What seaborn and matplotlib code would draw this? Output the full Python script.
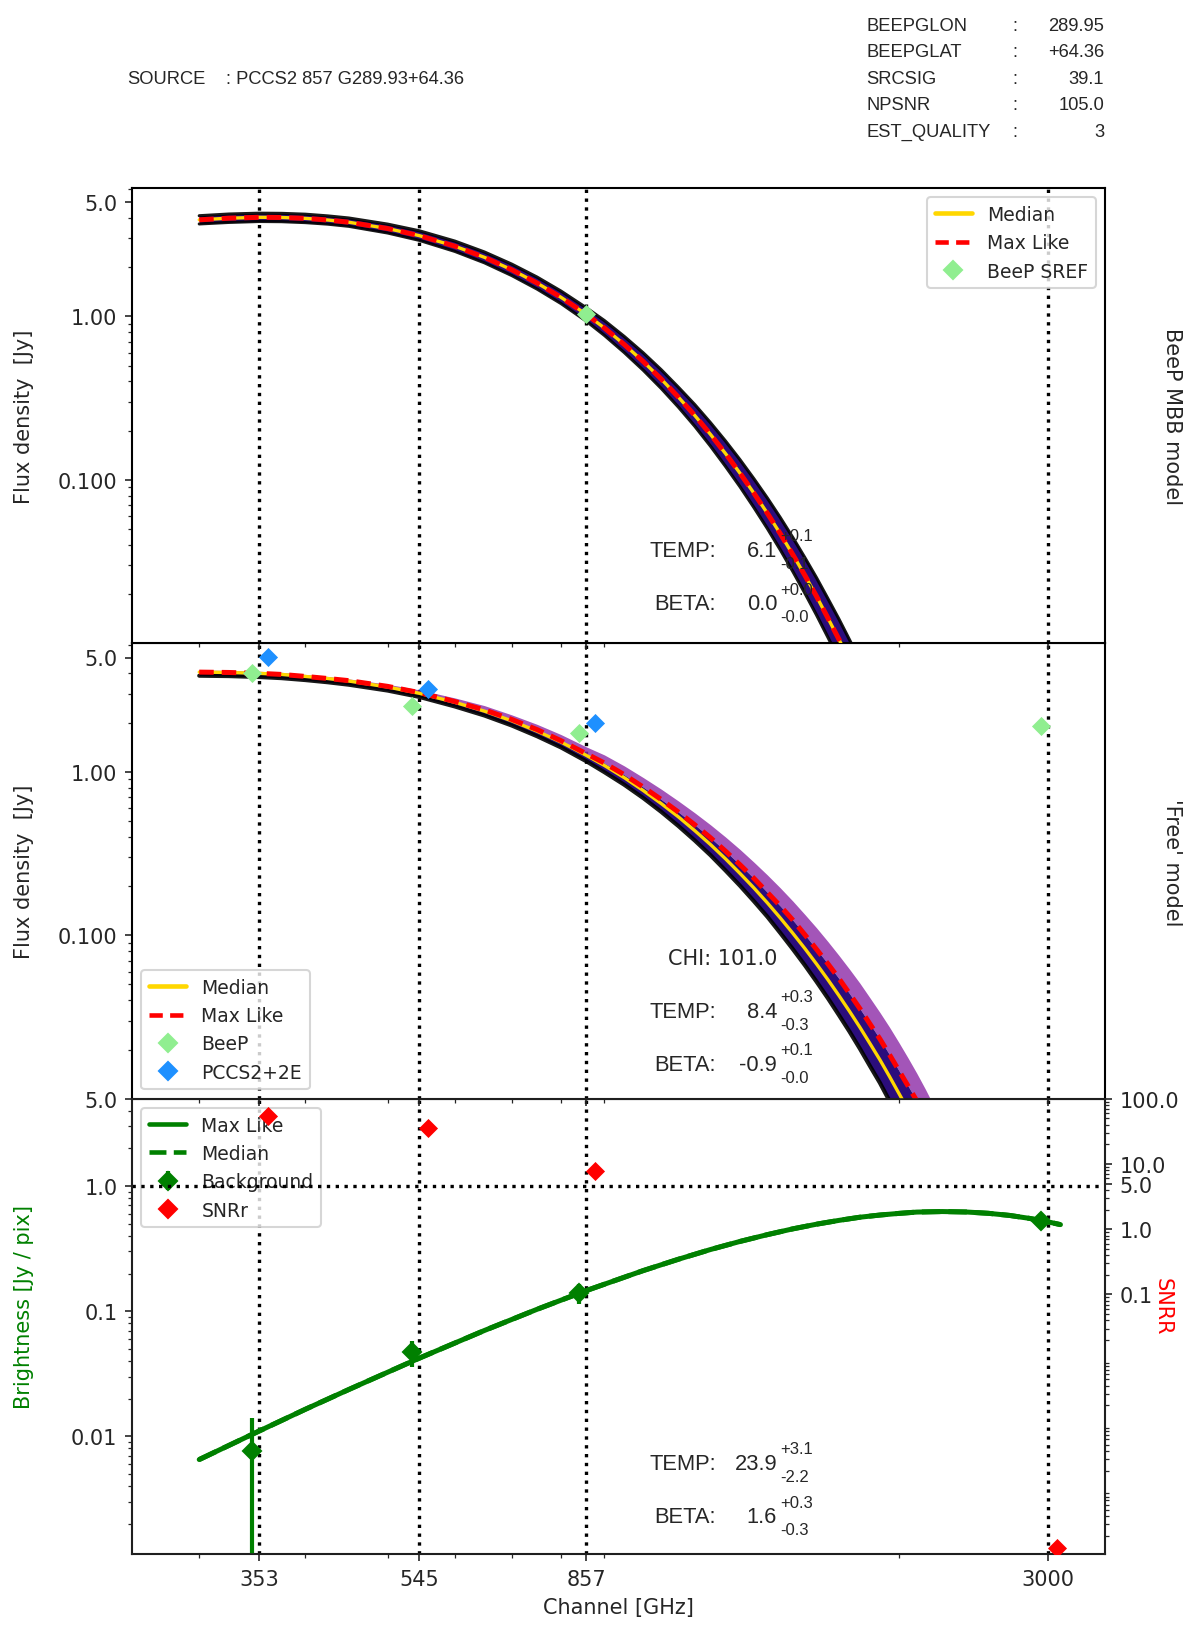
import matplotlib
matplotlib.use("Agg")
import matplotlib.pyplot as plt
import seaborn as sns
import pandas as pd
from matplotlib.lines import Line2D
from matplotlib import ticker

# ---------------- data ----------------
channels = [353, 545, 857, 3000]
channel_labels = ["353", "545", "857", "3000"]

# Panel 1 : BeeP MBB model
freq1 = [300, 325, 353, 375, 400, 425, 450, 500, 545, 600, 650, 700, 750, 800, 857, 900, 950, 1000,
         1050, 1100, 1150, 1200, 1250, 1300, 1350, 1400, 1450, 1500, 1550, 1600, 1650, 1700, 1750, 1800]
mbb_median = [3.90, 3.99, 4.04, 4.03, 3.98, 3.89, 3.77, 3.45, 3.12, 2.69, 2.30, 1.93, 1.60, 1.31, 1.03,
              0.850, 0.673, 0.530, 0.414, 0.321, 0.248, 0.190, 0.145, 0.110, 0.0830, 0.0626, 0.0469,
              0.0350, 0.0261, 0.0194, 0.0143, 0.0106, 0.0078, 0.0057]
mbb_maxlike = [3.90, 3.99, 4.04, 4.03, 3.98, 3.89, 3.77, 3.45, 3.12, 2.69, 2.30, 1.93, 1.60, 1.31, 1.03,
               0.850, 0.673, 0.530, 0.414, 0.321, 0.248, 0.190, 0.145, 0.110, 0.0830, 0.0626, 0.0469,
               0.0350, 0.0261, 0.0194, 0.0143, 0.0106, 0.0078, 0.0057]
mbb_upper = [4.13, 4.23, 4.28, 4.27, 4.22, 4.12, 4.00, 3.67, 3.34, 2.89, 2.48, 2.09, 1.74, 1.43, 1.13,
             0.944, 0.754, 0.599, 0.472, 0.369, 0.289, 0.224, 0.173, 0.133, 0.1017, 0.0776, 0.0589,
             0.0445, 0.0335, 0.0252, 0.0188, 0.0141, 0.0105, 0.0078]
mbb_lower = [3.68, 3.76, 3.81, 3.80, 3.75, 3.67, 3.56, 3.24, 2.92, 2.50, 2.13, 1.78, 1.47, 1.20, 0.936,
             0.766, 0.601, 0.469, 0.363, 0.279, 0.213, 0.161, 0.121, 0.0909, 0.0678, 0.0505, 0.0374,
             0.0276, 0.0203, 0.0149, 0.0109, 0.0080, 0.0058, 0.0042]
sref_freq = [857]
sref_flux = [1.03]

# Panel 2 : 'Free' model
freq2 = [300, 325, 353, 375, 400, 425, 450, 500, 545, 600, 650, 700, 750, 800, 857, 900, 950, 1000,
         1050, 1100, 1150, 1200, 1250, 1300, 1350, 1400, 1450, 1500, 1550, 1600, 1650, 1700, 1750,
         1800, 1850, 1900, 1950, 2000, 2050, 2100, 2150, 2200]
free_median = [4.07, 4.05, 4.00, 3.94, 3.83, 3.72, 3.59, 3.30, 3.02, 2.66, 2.35, 2.05, 1.77, 1.52, 1.26,
               1.093, 0.920, 0.768, 0.639, 0.530, 0.4365, 0.359, 0.2935, 0.239, 0.1947, 0.158, 0.1277,
               0.103, 0.0830, 0.0667, 0.0535, 0.0428, 0.0342, 0.0273, 0.0217, 0.0173, 0.01368, 0.0108,
               0.00858, 0.0068, 0.00536, 0.0042]
free_maxlike = [4.07, 4.05, 4.00, 3.94, 3.83, 3.72, 3.61, 3.33, 3.05, 2.69, 2.39, 2.09, 1.81, 1.55, 1.29,
                1.131, 0.959, 0.806, 0.677, 0.567, 0.474, 0.395, 0.327, 0.270, 0.223, 0.183, 0.151,
                0.124, 0.1008, 0.0820, 0.0669, 0.0544, 0.0439, 0.0355, 0.0286, 0.0232, 0.0186, 0.0149,
                0.0120, 0.0097, 0.0077, 0.0061]
free_upper = [4.19, 4.17, 4.12, 4.06, 3.94, 3.83, 3.70, 3.43, 3.17, 2.83, 2.54, 2.23, 1.95, 1.69, 1.42,
              1.268, 1.086, 0.922, 0.783, 0.663, 0.561, 0.474, 0.399, 0.335, 0.280, 0.234, 0.195,
              0.162, 0.134, 0.111, 0.0915, 0.0753, 0.0619, 0.0508, 0.0413, 0.0337, 0.0274, 0.0221,
              0.0178, 0.0143, 0.0114, 0.0090]
free_lower = [3.87, 3.85, 3.80, 3.74, 3.64, 3.53, 3.41, 3.14, 2.87, 2.51, 2.21, 1.92, 1.65, 1.41, 1.16,
              0.995, 0.833, 0.691, 0.569, 0.466, 0.380, 0.309, 0.249, 0.201, 0.1616, 0.130, 0.1034,
              0.0824, 0.0656, 0.0520, 0.0412, 0.0325, 0.0257, 0.0202, 0.0158, 0.0125, 0.0097, 0.0076,
              0.0059, 0.0046, 0.0036, 0.0028]
beep_flux = [4.03, 2.52, 1.72, 1.91]
pccs_channels = [353, 545, 857]
pccs_flux = [5.03, 3.19, 1.99]

# Panel 3 : background
freq3 = [300, 353, 400, 450, 545, 650, 750, 857, 1000, 1100, 1200, 1300, 1400, 1500, 1600, 1700, 1800,
         1900, 2000, 2100, 2250, 2400, 2550, 2700, 2850, 3000, 3100]
bg_maxlike = [0.0065, 0.0110, 0.0164, 0.0236, 0.0421, 0.070, 0.1035, 0.146, 0.211, 0.260, 0.311, 0.361,
              0.409, 0.455, 0.496, 0.532, 0.564, 0.587, 0.605, 0.620, 0.626, 0.621, 0.606, 0.583,
              0.552, 0.517, 0.492]
bg_median = [0.0065, 0.0110, 0.0164, 0.0236, 0.0421, 0.070, 0.1035, 0.146, 0.211, 0.260, 0.311, 0.361,
             0.409, 0.455, 0.496, 0.532, 0.564, 0.587, 0.605, 0.620, 0.626, 0.621, 0.606, 0.583,
             0.552, 0.517, 0.492]
bg_flux = [0.0076, 0.047, 0.139, 0.525]
bg_err = [0.0065, 0.011, 0.025, 0.045]
snr = [55.0, 35.0, 7.8, 1.3e-5]

header_keys = ["BEEPGLON", "BEEPGLAT", "SRCSIG", "NPSNR", "EST_QUALITY"]
header_vals = ["289.95", "+64.36", "39.1", "105.0", "3"]
source_name = "PCCS2 857 G289.93+64.36"

fit1 = [("TEMP:", "6.1", "+0.1", "-0.1"), ("BETA:", "0.0", "+0.0", "-0.0")]
fit2 = [("TEMP:", "8.4", "+0.3", "-0.3"), ("BETA:", "-0.9", "+0.1", "-0.0")]
fit3 = [("TEMP:", "23.9", "+3.1", "-2.2"), ("BETA:", "1.6", "+0.3", "-0.3")]
chi2 = "101.0"

# ---------------- figure ----------------
sns.set_style("ticks")
plt.rcParams["font.family"] = ["DejaVu Sans"]
plt.rcParams["font.size"] = 10
plt.rcParams["xtick.direction"] = "out"
plt.rcParams["ytick.direction"] = "out"

fig = plt.figure(figsize=(8, 10.853), dpi=150)
L, W = 0.110, 0.811
H = 0.2797
ax3 = fig.add_axes([L, 0.0448, W, H])
ax2 = fig.add_axes([L, 0.0448 + H, W, H], sharex=ax3)
ax1 = fig.add_axes([L, 0.0448 + 2 * H, W, H], sharex=ax3)

INDIGO = "#2b0d7c"
PURPLE = "#8c2aa6"
NARROW = ["Liberation Sans Narrow", "Liberation Sans", "DejaVu Sans"]
ARIAL = ["Liberation Sans", "DejaVu Sans"]

for ax in (ax1, ax2, ax3):
    ax.set_xscale("log")
    ax.set_yscale("log")
    for sp in ax.spines.values():
        sp.set_visible(True)
        sp.set_color("black")
        sp.set_linewidth(1.0)

ax3.set_xlim(250, 3500)


def draw_lines(ax, f, med, ml, zmed=4, zml=5):
    sns.lineplot(x=f, y=med, ax=ax, color="gold", linewidth=1.6, estimator=None, sort=False, zorder=zmed)
    sns.lineplot(x=f, y=ml, ax=ax, color="red", linewidth=2.4, linestyle=(0, (2.9, 1.6)),
                 estimator=None, sort=False, zorder=zml)


# ---- panel 1 ----
ax1.fill_between(freq1, mbb_lower, mbb_upper, color=INDIGO, lw=0, zorder=2)
ax1.plot(freq1, mbb_lower, color="black", lw=1.5, alpha=0.9, zorder=2)
ax1.plot(freq1, mbb_upper, color="black", lw=1.5, alpha=0.9, zorder=2)
draw_lines(ax1, freq1, mbb_median, mbb_maxlike)
sns.scatterplot(x=sref_freq, y=sref_flux, ax=ax1, marker="D", color="lightgreen", s=42,
                linewidth=0, zorder=6)
ax1.set_ylim(0.01, 6.1)

# ---- panel 2 ----
ax2.fill_between(freq2, free_maxlike, free_upper, color=PURPLE, lw=0, alpha=0.8, zorder=2)
ax2.fill_between(freq2, free_lower, free_maxlike, color=INDIGO, lw=0, zorder=2)
ax2.plot(freq2, free_lower, color="black", lw=2.0, alpha=0.9, zorder=2)
draw_lines(ax2, freq2, free_median, free_maxlike)
sns.scatterplot(x=[c * 0.98 for c in channels], y=beep_flux, ax=ax2, marker="D", color="lightgreen",
                s=42, linewidth=0, zorder=6)
sns.scatterplot(x=[c * 1.023 for c in pccs_channels], y=pccs_flux, ax=ax2, marker="D",
                color="dodgerblue", s=42, linewidth=0, zorder=6)
ax2.set_ylim(0.01, 6.1)

# ---- panel 3 ----
ax3r = ax3.twinx()
ax3r.set_yscale("log")
sns.lineplot(x=freq3, y=bg_maxlike, ax=ax3, color="green", linewidth=2.4, estimator=None, sort=False, zorder=3)
sns.lineplot(x=freq3, y=bg_median, ax=ax3, color="green", linewidth=2.4, linestyle="--",
             estimator=None, sort=False, zorder=3)
eb = ax3.errorbar([c * 0.98 for c in channels], bg_flux, yerr=bg_err, fmt="D", color="green",
                  ms=6.2, elinewidth=2.0, capsize=0, zorder=4)
sns.scatterplot(x=[c * 1.023 for c in channels], y=snr, ax=ax3r, marker="D", color="red", s=42,
                linewidth=0, zorder=6)
ax3.set_ylim(0.00114, 5.0)
ax3r.set_ylim(1.05e-5, 100)

# vertical channel lines
for ax in (ax1, ax2, ax3):
    for c in channels:
        ax.axvline(c, color="black", ls=":", lw=1.6, zorder=1)
ax3.axhline(1.0, color="black", ls=":", lw=1.6, zorder=6)

# ticks
ax3.xaxis.set_major_locator(ticker.FixedLocator(channels))
ax3.xaxis.set_major_formatter(ticker.FixedFormatter(channel_labels))
ax3.xaxis.set_minor_formatter(ticker.NullFormatter())
ax3.set_xlim(250, 3500)
for ax in (ax1, ax2):
    ax.tick_params(axis="x", which="both", labelbottom=False)
    ax.yaxis.set_major_locator(ticker.FixedLocator([5.0, 1.0, 0.1]))
    ax.yaxis.set_major_formatter(ticker.FixedFormatter(["5.0", "1.00", "0.100"]))
    ax.yaxis.set_minor_formatter(ticker.NullFormatter())
    ax.set_ylabel("Flux density  [Jy]", fontsize=10)
    ax.yaxis.set_label_coords(-0.101, 0.5)
ax3.yaxis.set_major_locator(ticker.FixedLocator([5.0, 1.0, 0.1, 0.01]))
ax3.yaxis.set_major_formatter(ticker.FixedFormatter(["5.0", "1.0", "0.1", "0.01"]))
ax3.yaxis.set_minor_formatter(ticker.NullFormatter())
ax3r.yaxis.set_major_locator(ticker.FixedLocator([100.0, 10.0, 5.0, 1.0, 0.1]))
ax3r.yaxis.set_major_formatter(ticker.FixedFormatter(["100.0", "10.0", "5.0", "1.0", "0.1"]))
ax3r.yaxis.set_minor_formatter(ticker.NullFormatter())
ax3.set_ylabel("Brightness [Jy / pix]", color="green", fontsize=10)
ax3.yaxis.set_label_coords(-0.101, 0.545)
ax3r.set_ylabel("SNRR", color="red", rotation=270, fontsize=10)
ax3r.yaxis.set_label_coords(1.069, 0.545)
ax3.set_xlabel("Channel [GHz]", fontsize=10)

# legends
LEGFS = 9
h_med = Line2D([], [], color="gold", lw=2.2)
h_ml = Line2D([], [], color="red", lw=2.2, ls=(0, (2.9, 1.6)))
h_sref = Line2D([], [], color="lightgreen", marker="D", ls="none", ms=6.2)
ax1.legend([h_med, h_ml, h_sref], ["Median", "Max Like", "BeeP SREF"], loc="upper right", fontsize=LEGFS)
h_beep = Line2D([], [], color="lightgreen", marker="D", ls="none", ms=6.2)
h_pccs = Line2D([], [], color="dodgerblue", marker="D", ls="none", ms=6.2)
ax2.legend([h_med, h_ml, h_beep, h_pccs], ["Median", "Max Like", "BeeP", "PCCS2+2E"], loc="lower left",
           fontsize=LEGFS)
h_gml = Line2D([], [], color="green", lw=2.2)
h_gmed = Line2D([], [], color="green", lw=2.2, ls="--")
h_snr = Line2D([], [], color="red", marker="D", ls="none", ms=6.2)
leg3 = ax3.legend([h_gml, h_gmed, eb, h_snr], ["Max Like", "Median", "Background", "SNRr"], loc="upper left",
                  fontsize=LEGFS)
leg3.set_zorder(5)


# fit annotations
def annotate(ax, rows, ys):
    for (lab, val, up, lo), y in zip(rows, ys):
        ax.text(0.600, y, lab, transform=ax.transAxes, ha="right", va="center", fontsize=10.5,
                family=ARIAL, zorder=7)
        ax.text(0.663, y, val, transform=ax.transAxes, ha="right", va="center", fontsize=10.5,
                family=ARIAL, zorder=7)
        ax.text(0.666, y + 0.032, up, transform=ax.transAxes, ha="left", va="center", fontsize=8,
                family=ARIAL, zorder=7)
        ax.text(0.666, y - 0.028, lo, transform=ax.transAxes, ha="left", va="center", fontsize=8,
                family=ARIAL, zorder=7)


annotate(ax1, fit1, [0.204, 0.087])
annotate(ax2, fit2, [0.192, 0.0755])
annotate(ax3, fit3, [0.199, 0.082])
ax2.text(0.663, 0.309, "CHI: " + chi2, transform=ax2.transAxes, ha="right", va="center", fontsize=10, zorder=7)

# right-side model names
fig.text(0.977, 0.744, "BeeP MBB model", rotation=270, ha="center", va="center", fontsize=10)
fig.text(0.977, 0.470, "'Free' model", rotation=270, ha="center", va="center", fontsize=10)

# header
HFS = 8.8
fig.text(0.106, 0.951, "SOURCE", ha="left", va="center", fontsize=HFS, family=NARROW)
fig.text(0.188, 0.951, ": " + source_name, ha="left", va="center", fontsize=HFS, family=NARROW)
for i, (k, v) in enumerate(zip(header_keys, header_vals)):
    y = 0.984 - i * 0.0163
    fig.text(0.722, y, k, ha="left", va="center", fontsize=HFS, family=NARROW)
    fig.text(0.844, y, ":", ha="left", va="center", fontsize=HFS, family=NARROW)
    fig.text(0.920, y, v, ha="right", va="center", fontsize=HFS, family=NARROW)

fig.savefig("out.png", dpi=150)
